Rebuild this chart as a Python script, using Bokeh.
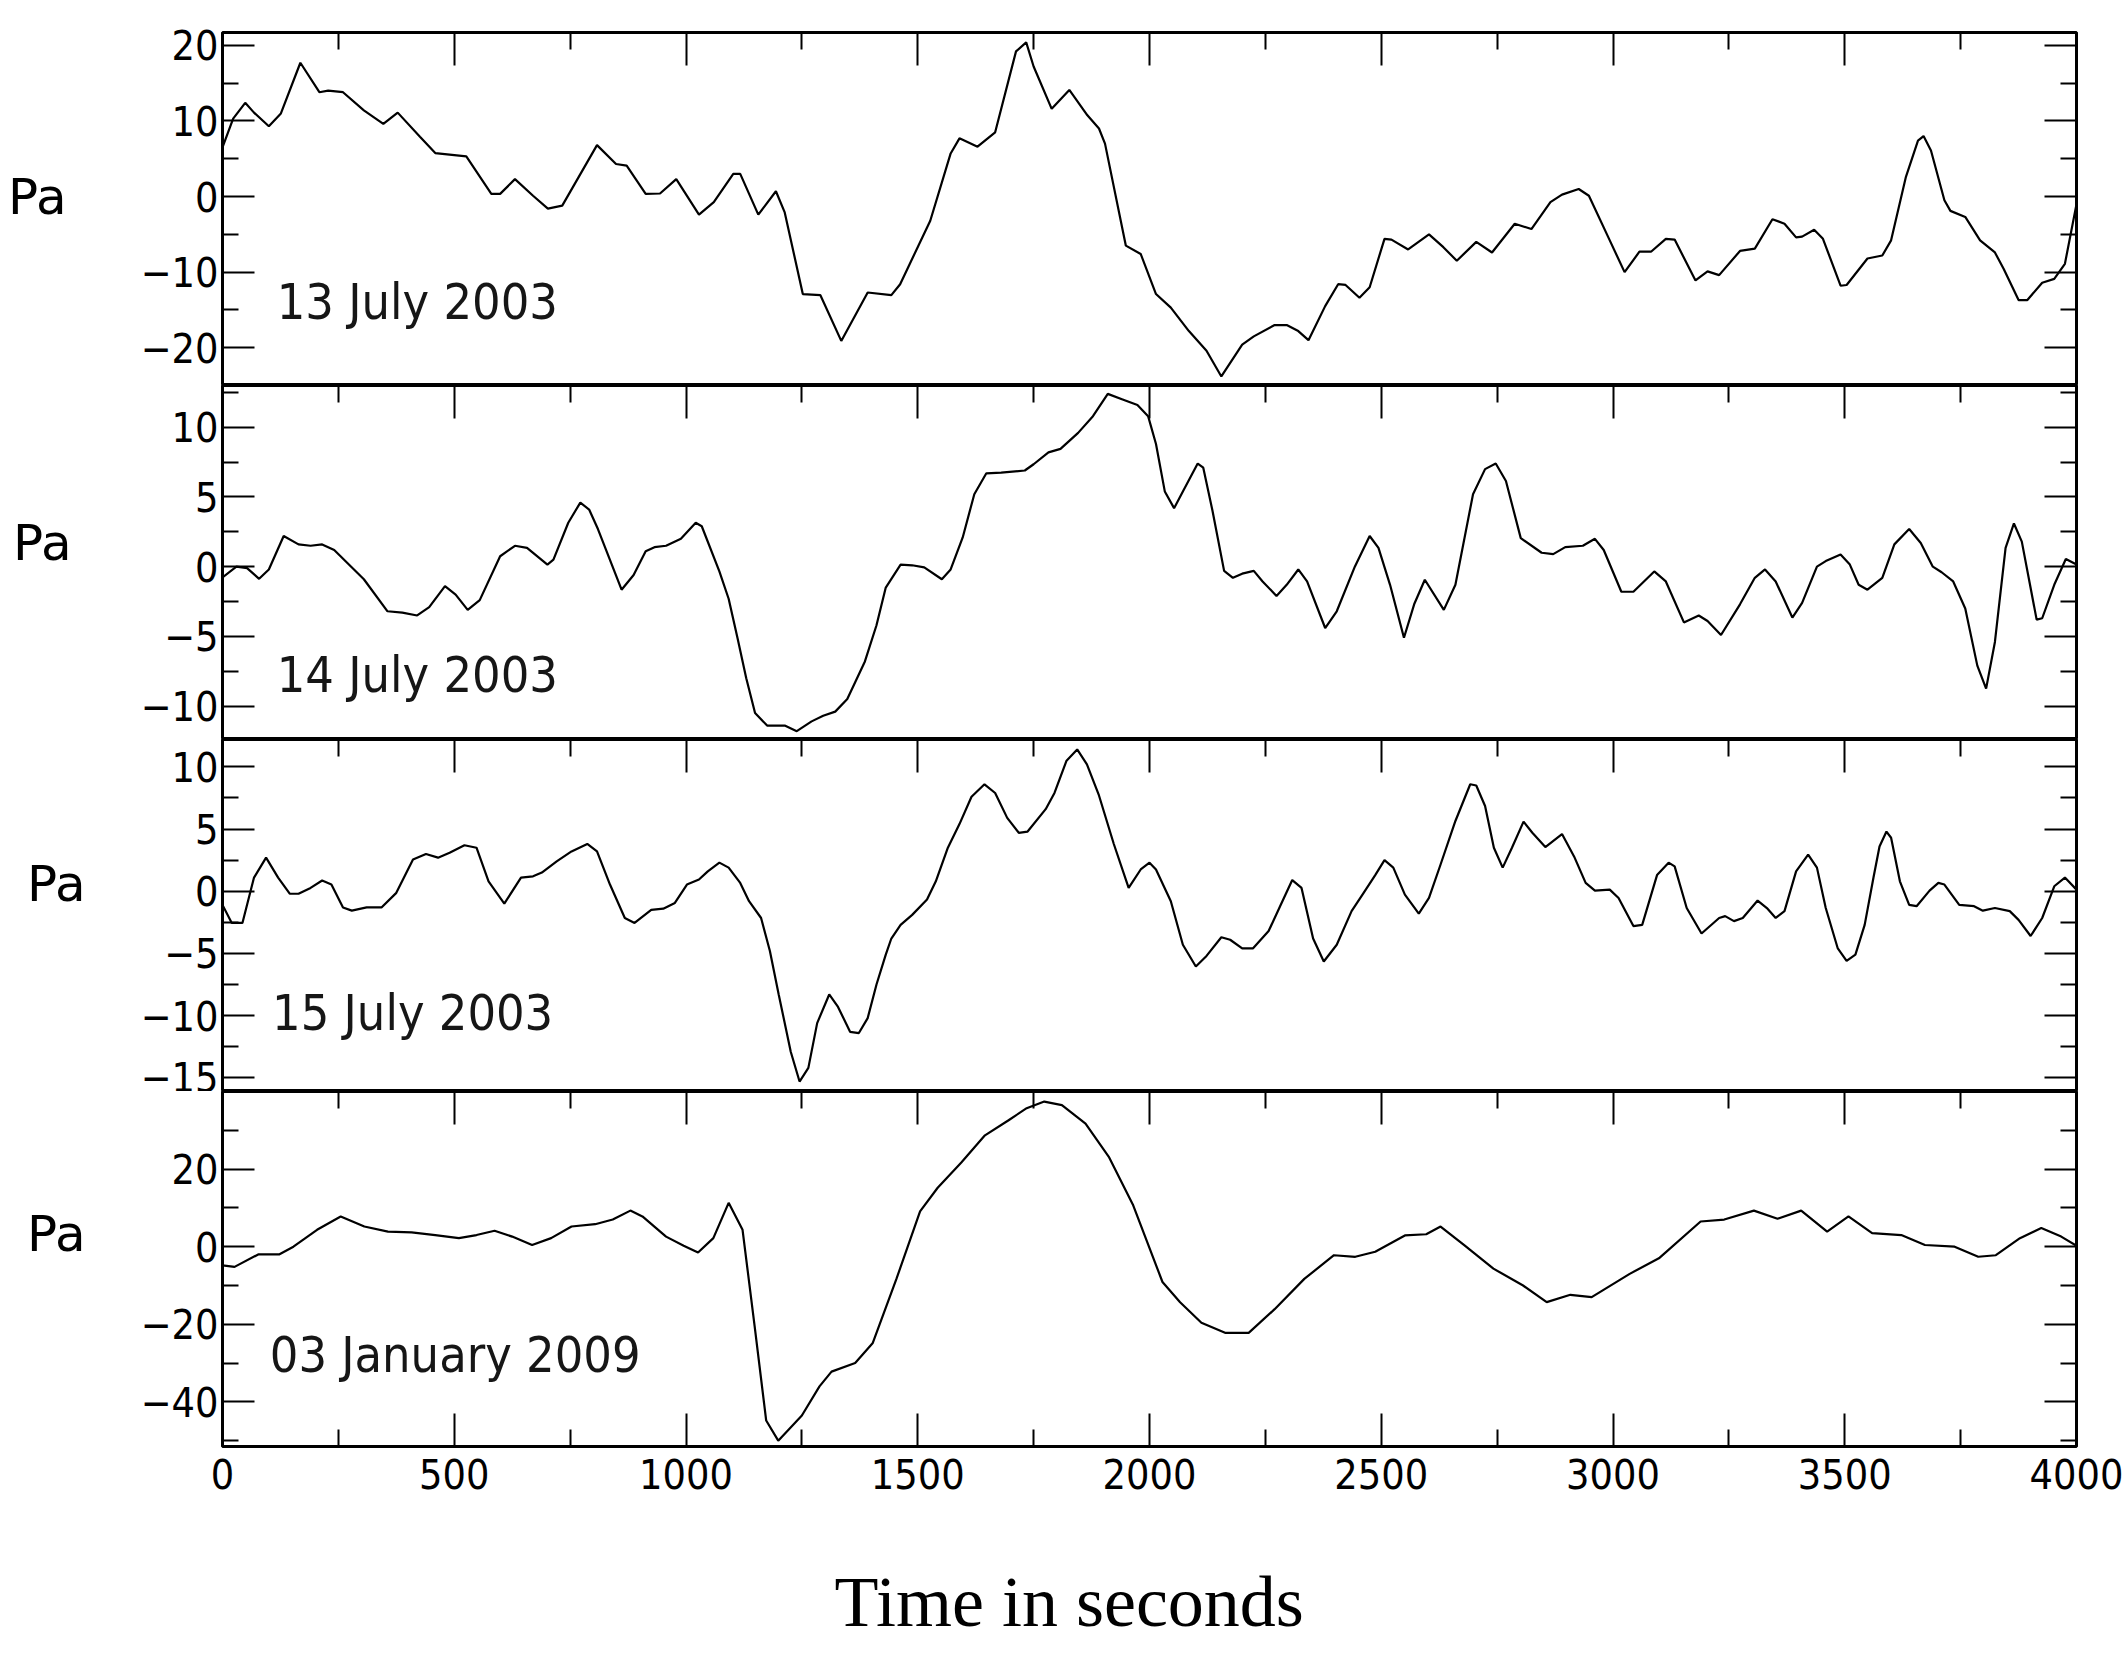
from bokeh.plotting import figure
from bokeh.models import LinearAxis, FixedTicker, Label, Range1d, CustomJSTickFormatter, Title
from bokeh.layouts import column
from bokeh.embed import file_html
from bokeh.resources import INLINE

# ---------------- data ----------------
x_major = [0, 500, 1000, 1500, 2000, 2500, 3000, 3500, 4000]
x_minor = [250, 750, 1250, 1750, 2250, 2750, 3250, 3750]

dates = ["13 July 2003", "14 July 2003", "15 July 2003", "03 January 2009"]

t1 = [0, 23, 49, 68, 100, 126, 168, 209, 228, 260,
      305, 347, 378, 426, 459, 526, 580, 599, 631, 670,
      702, 733, 808, 849, 872, 913, 944, 979, 1028, 1060,
      1102, 1117, 1156, 1194, 1213, 1252, 1290, 1335, 1392, 1443,
      1462, 1527, 1571, 1590, 1629, 1667, 1712, 1734, 1750, 1789,
      1827, 1866, 1891, 1904, 1949, 1981, 2014, 2046, 2085, 2123,
      2155, 2200, 2225, 2270, 2296, 2321, 2343, 2379, 2407, 2423,
      2453, 2475, 2507, 2522, 2558, 2603, 2634, 2663, 2705, 2739,
      2788, 2824, 2865, 2890, 2926, 2948, 2993, 3025, 3057, 3082,
      3114, 3133, 3178, 3204, 3229, 3274, 3306, 3344, 3370, 3395,
      3408, 3434, 3453, 3491, 3504, 3549, 3581, 3600, 3632, 3658,
      3670, 3686, 3715, 3728, 3760, 3792, 3824, 3843, 3875, 3894,
      3926, 3952, 3975, 4000]
v1 = [6.5, 10.3, 12.4, 11.1, 9.3, 11.0, 17.7, 13.8, 14.0, 13.8,
      11.4, 9.6, 11.1, 7.9, 5.75, 5.3, 0.35, 0.35, 2.3, 0.1,
      -1.6, -1.2, 6.8, 4.3, 4.1, 0.35, 0.4, 2.3, -2.4, -0.75,
      3.0, 3.0, -2.4, 0.7, -2.1, -12.9, -13.05, -19.1, -12.7, -13.05,
      -11.6, -3.2, 5.7, 7.7, 6.6, 8.5, 19.2, 20.4, 17.2, 11.6,
      14.1, 10.75, 9.0, 7.0, -6.5, -7.6, -12.9, -14.7, -17.8, -20.4,
      -23.8, -19.6, -18.5, -17.0, -17.0, -17.8, -19.0, -14.5, -11.6, -11.7,
      -13.4, -12.0, -5.6, -5.7, -7.0, -5.0, -6.7, -8.5, -6.0, -7.4,
      -3.6, -4.3, -0.75, 0.25, 1.0, 0.1, -5.8, -10.0, -7.3, -7.3,
      -5.6, -5.7, -11.1, -9.9, -10.4, -7.2, -6.9, -3.0, -3.6, -5.4,
      -5.3, -4.4, -5.6, -11.8, -11.7, -8.2, -7.8, -5.8, 2.6, 7.4,
      8.0, 6.1, -0.5, -1.9, -2.7, -5.8, -7.4, -9.6, -13.7, -13.7,
      -11.4, -10.9, -8.9, -1.0]

t2 = [0, 30, 53, 79, 100, 132, 164, 190, 215, 241,
      305, 356, 388, 420, 446, 480, 503, 529, 555, 599,
      631, 657, 701, 714, 746, 772, 791, 810, 861, 887,
      913, 932, 957, 989, 1021, 1034, 1072, 1092, 1111, 1130,
      1149, 1175, 1213, 1239, 1271, 1296, 1322, 1348, 1386, 1411,
      1431, 1463, 1488, 1514, 1552, 1571, 1597, 1622, 1648, 1680,
      1731, 1750, 1782, 1808, 1846, 1878, 1910, 1942, 1974, 1997,
      2014, 2033, 2053, 2072, 2104, 2116, 2136, 2161, 2180, 2200,
      2225, 2244, 2274, 2296, 2321, 2340, 2379, 2404, 2443, 2475,
      2494, 2519, 2549, 2571, 2594, 2635, 2660, 2698, 2724, 2747,
      2769, 2801, 2846, 2871, 2897, 2935, 2961, 2980, 3018, 3044,
      3089, 3114, 3153, 3185, 3204, 3233, 3274, 3306, 3328, 3351,
      3387, 3408, 3440, 3459, 3491, 3511, 3530, 3549, 3581, 3607,
      3639, 3664, 3690, 3709, 3734, 3760, 3786, 3805, 3824, 3847,
      3865, 3882, 3914, 3926, 3952, 3977, 4000]
v2 = [-0.77, 0.0, -0.1, -0.87, -0.2, 2.2, 1.6, 1.5, 1.6, 1.2,
      -0.9, -3.2, -3.3, -3.5, -2.9, -1.4, -2.0, -3.1, -2.4, 0.75,
      1.5, 1.35, 0.15, 0.5, 3.15, 4.6, 4.1, 2.7, -1.65, -0.6,
      1.1, 1.4, 1.5, 2.0, 3.15, 2.9, -0.34, -2.3, -5.1, -8.0,
      -10.5, -11.4, -11.4, -11.8, -11.1, -10.7, -10.4, -9.5, -6.8, -4.2,
      -1.5, 0.15, 0.1, -0.05, -0.9, -0.2, 2.1, 5.2, 6.7, 6.75,
      6.9, 7.35, 8.2, 8.45, 9.6, 10.8, 12.4, 12.0, 11.6, 10.8,
      8.8, 5.4, 4.2, 5.4, 7.4, 7.1, 4.0, -0.3, -0.8, -0.5,
      -0.3, -1.06, -2.1, -1.3, -0.2, -1.06, -4.4, -3.2, 0.0, 2.2,
      1.35, -1.3, -5.1, -2.7, -0.94, -3.1, -1.3, 5.2, 7.0, 7.4,
      6.15, 2.05, 1.0, 0.9, 1.4, 1.5, 2.0, 1.2, -1.8, -1.8,
      -0.34, -1.06, -4.0, -3.5, -3.9, -4.9, -2.7, -0.8, -0.2, -1.06,
      -3.65, -2.6, 0.0, 0.4, 0.87, 0.15, -1.3, -1.65, -0.8, 1.6,
      2.7, 1.7, 0.0, -0.4, -1.06, -3.0, -7.1, -8.75, -5.4, 1.35,
      3.1, 1.8, -3.8, -3.7, -1.3, 0.55, 0.15]

t3 = [0, 20, 43, 68, 94, 120, 145, 164, 190, 215,
      235, 260, 279, 311, 343, 375, 411, 439, 465, 490,
      522, 548, 574, 608, 644, 670, 689, 721, 753, 787,
      808, 836, 868, 889, 925, 951, 976, 1002, 1028, 1047,
      1072, 1092, 1117, 1136, 1162, 1181, 1200, 1226, 1245, 1264,
      1283, 1309, 1328, 1354, 1373, 1392, 1411, 1431, 1443, 1463,
      1488, 1520, 1539, 1565, 1590, 1616, 1644, 1667, 1693, 1718,
      1737, 1776, 1795, 1821, 1844, 1865, 1891, 1923, 1955, 1981,
      2000, 2014, 2046, 2072, 2100, 2123, 2155, 2174, 2200, 2223,
      2257, 2283, 2308, 2328, 2353, 2376, 2404, 2436, 2462, 2487,
      2507, 2526, 2551, 2581, 2603, 2628, 2660, 2692, 2705, 2724,
      2743, 2762, 2782, 2807, 2826, 2854, 2890, 2916, 2941, 2961,
      2993, 3012, 3044, 3063, 3095, 3120, 3133, 3159, 3191, 3229,
      3242, 3261, 3280, 3312, 3332, 3351, 3370, 3395, 3421, 3440,
      3459, 3485, 3504, 3523, 3543, 3562, 3575, 3590, 3600, 3619,
      3639, 3655, 3683, 3702, 3715, 3747, 3779, 3798, 3824, 3856,
      3875, 3901, 3926, 3952, 3975, 4000]
v3 = [-1.1, -2.55, -2.55, 1.1, 2.7, 1.1, -0.2, -0.2, 0.27, 0.86,
      0.54, -1.3, -1.56, -1.3, -1.3, -0.13, 2.55, 3.0, 2.7, 3.1,
      3.7, 3.5, 0.8, -1.0, 1.1, 1.2, 1.5, 2.4, 3.2, 3.8,
      3.2, 0.54, -2.15, -2.55, -1.5, -1.4, -0.94, 0.54, 0.94, 1.6,
      2.3, 1.9, 0.67, -0.8, -2.15, -4.8, -8.3, -12.9, -15.3, -14.2,
      -10.6, -8.3, -9.3, -11.3, -11.4, -10.2, -7.5, -5.1, -3.8, -2.7,
      -1.9, -0.67, 0.8, 3.5, 5.4, 7.6, 8.6, 7.9, 5.9, 4.7,
      4.8, 6.6, 7.9, 10.5, 11.4, 10.2, 7.7, 3.8, 0.27, 1.75,
      2.3, 1.75, -0.8, -4.3, -6.05, -5.2, -3.7, -3.9, -4.6, -4.6,
      -3.2, -1.1, 0.9, 0.27, -3.8, -5.65, -4.3, -1.6, -0.13, 1.3,
      2.5, 1.9, -0.27, -1.8, -0.54, 2.15, 5.65, 8.6, 8.5, 6.85,
      3.5, 1.9, 3.5, 5.6, 4.7, 3.55, 4.6, 2.8, 0.67, 0.05,
      0.13, -0.54, -2.8, -2.7, 1.3, 2.3, 2.0, -1.35, -3.4, -2.15,
      -2.0, -2.4, -2.15, -0.75, -1.35, -2.15, -1.6, 1.6, 2.95, 1.9,
      -1.35, -4.6, -5.6, -5.1, -2.7, 1.1, 3.6, 4.8, 4.3, 0.8,
      -1.1, -1.2, 0.05, 0.67, 0.54, -1.1, -1.2, -1.56, -1.35, -1.6,
      -2.3, -3.6, -2.15, 0.4, 1.1, 0.13]

t4 = [0, 26, 77, 122, 153, 204, 255, 306, 357, 408,
      459, 510, 548, 587, 625, 668, 709, 753, 804, 842,
      880, 906, 957, 995, 1026, 1059, 1092, 1122, 1148, 1173,
      1199, 1250, 1288, 1314, 1365, 1403, 1454, 1505, 1543, 1594,
      1645, 1696, 1735, 1773, 1811, 1862, 1913, 1964, 2028, 2066,
      2112, 2163, 2214, 2270, 2334, 2398, 2444, 2487, 2551, 2597,
      2628, 2679, 2742, 2806, 2857, 2908, 2954, 3036, 3099, 3189,
      3240, 3304, 3355, 3406, 3462, 3508, 3559, 3622, 3673, 3737,
      3788, 3826, 3878, 3924, 3967, 4000]
v4 = [-4.8, -5.2, -2.0, -2.0, 0.0, 4.35, 7.8, 5.2, 3.9, 3.7,
      3.0, 2.2, 3.0, 4.1, 2.6, 0.43, 2.2, 5.2, 5.8, 7.0,
      9.3, 7.8, 2.6, 0.26, -1.5, 2.2, 11.3, 4.35, -20.4, -44.8,
      -50.0, -43.5, -36.0, -32.2, -30.0, -24.8, -8.3, 9.1, 15.2, 21.7,
      28.7, 32.6, 35.7, 37.4, 36.5, 31.7, 23.0, 10.9, -9.1, -14.3,
      -19.6, -22.2, -22.2, -16.1, -8.3, -2.2, -2.6, -1.3, 2.9, 3.2,
      5.2, 0.4, -5.65, -10.0, -14.3, -12.4, -13.0, -7.0, -3.0, 6.5,
      7.0, 9.3, 7.2, 9.3, 3.9, 7.8, 3.5, 3.0, 0.43, 0.0,
      -2.6, -2.2, 2.2, 4.8, 2.6, 0.26]

y_ranges = [(-25.0, 21.7), (-12.4, 13.0), (-16.1, 12.2), (-51.5, 40.0)]
y_major = [[-20, -10, 0, 10, 20],
           [-10, -5, 0, 5, 10],
           [-15, -10, -5, 0, 5, 10],
           [-40, -20, 0, 20]]
y_minor = [[-15, -5, 5, 15],
           [-7.5, -2.5, 2.5, 7.5, 12.5],
           [-12.5, -7.5, -2.5, 2.5, 7.5],
           [-50, -30, -10, 10, 30]]

# ---------------- layout / style ----------------
FRAME_W = 1854
FRAME_H = [353, 354, 352, 355]
LEFT, RIGHT = 222, 51
TOP, BOTTOM = 32, 212
NARROW = "Liberation Sans Narrow, DejaVu Sans Condensed, sans-serif"

date_pos = [(117, -13.9), (117, -7.75), (107, -9.8), (102, -27.9)]
pa_standoff = [71, 66, 52, 52]
pa_line_height = [0.42, 0.66, 1.1, 1.22]

minus_fmt = CustomJSTickFormatter(code="return tick < 0 ? '\u2212' + Math.abs(tick) : String(tick);")


def style_axis(ax, labels, tick_major, tick_minor):
    ax.axis_line_color = None
    ax.major_tick_in = tick_major
    ax.major_tick_out = 0
    ax.minor_tick_in = tick_minor
    ax.minor_tick_out = 0
    ax.major_tick_line_width = 2
    ax.minor_tick_line_width = 2
    ax.major_tick_line_color = "black"
    ax.minor_tick_line_color = "black"
    if labels:
        ax.major_label_text_font = NARROW
        ax.major_label_text_font_size = "41px"
        ax.major_label_text_color = "black"
        ax.major_label_text_font_style = "normal"
    else:
        ax.formatter = CustomJSTickFormatter(code="return '';")
        ax.major_label_standoff = 0


series = [(t1, v1), (t2, v2), (t3, v3), (t4, v4)]
figs = []
for i, (t, v) in enumerate(series):
    last = (i == 3)
    p = figure(frame_width=FRAME_W, frame_height=FRAME_H[i],
               x_range=Range1d(0, 4000), y_range=Range1d(*y_ranges[i]),
               output_backend="svg", toolbar_location=None, title=None,
               x_axis_location="below" if last else "above",
               min_border_left=LEFT, min_border_right=RIGHT,
               min_border_top=TOP if i == 0 else 0,
               min_border_bottom=BOTTOM if last else 0)
    p.xgrid.visible = False
    p.ygrid.visible = False
    p.outline_line_color = "black"
    p.outline_line_width = 3
    p.background_fill_color = "white"
    p.border_fill_color = "white"

    p.xaxis[0].ticker = FixedTicker(ticks=x_major, minor_ticks=x_minor)
    style_axis(p.xaxis[0], last, 33, 17)
    if last:
        p.xaxis[0].major_label_standoff = 12
        top_ax = LinearAxis(ticker=FixedTicker(ticks=x_major, minor_ticks=x_minor))
        style_axis(top_ax, False, 33, 17)
        p.add_layout(top_ax, "above")

    yax = p.yaxis[0]
    yax.ticker = FixedTicker(ticks=y_major[i], minor_ticks=y_minor[i])
    yax.formatter = minus_fmt
    style_axis(yax, True, 32, 16)
    yax.major_label_standoff = 4
    # second (empty) line lifts "Pa" above the panel centre, as in the original
    yax.axis_label = "Pa\n"
    yax.axis_label_orientation = "horizontal"
    yax.axis_label_standoff = pa_standoff[i]
    yax.axis_label_text_font = "DejaVu Sans"
    yax.axis_label_text_font_size = "50px"
    yax.axis_label_text_font_style = "normal"
    yax.axis_label_text_color = "black"
    yax.axis_label_text_line_height = pa_line_height[i]

    right_ax = LinearAxis(ticker=FixedTicker(ticks=y_major[i], minor_ticks=y_minor[i]))
    style_axis(right_ax, False, 32, 16)
    p.add_layout(right_ax, "right")

    p.line(t, v, line_color="black", line_width=2.2)

    dx, dy = date_pos[i]
    p.add_layout(Label(x=dx, y=dy, text=dates[i], text_font=NARROW,
                       text_font_size="50px", text_color="#161616",
                       text_align="left", text_baseline="alphabetic"))
    if last:
        p.add_layout(Title(text="Time in seconds", align="left", offset=612,
                           standoff=136, text_font="Liberation Serif",
                           text_font_size="72px", text_font_style="normal",
                           text_color="black"), "below")
    figs.append(p)

layout = column(*figs, spacing=0)
open("out.html", "w").write(file_html(layout, INLINE))
